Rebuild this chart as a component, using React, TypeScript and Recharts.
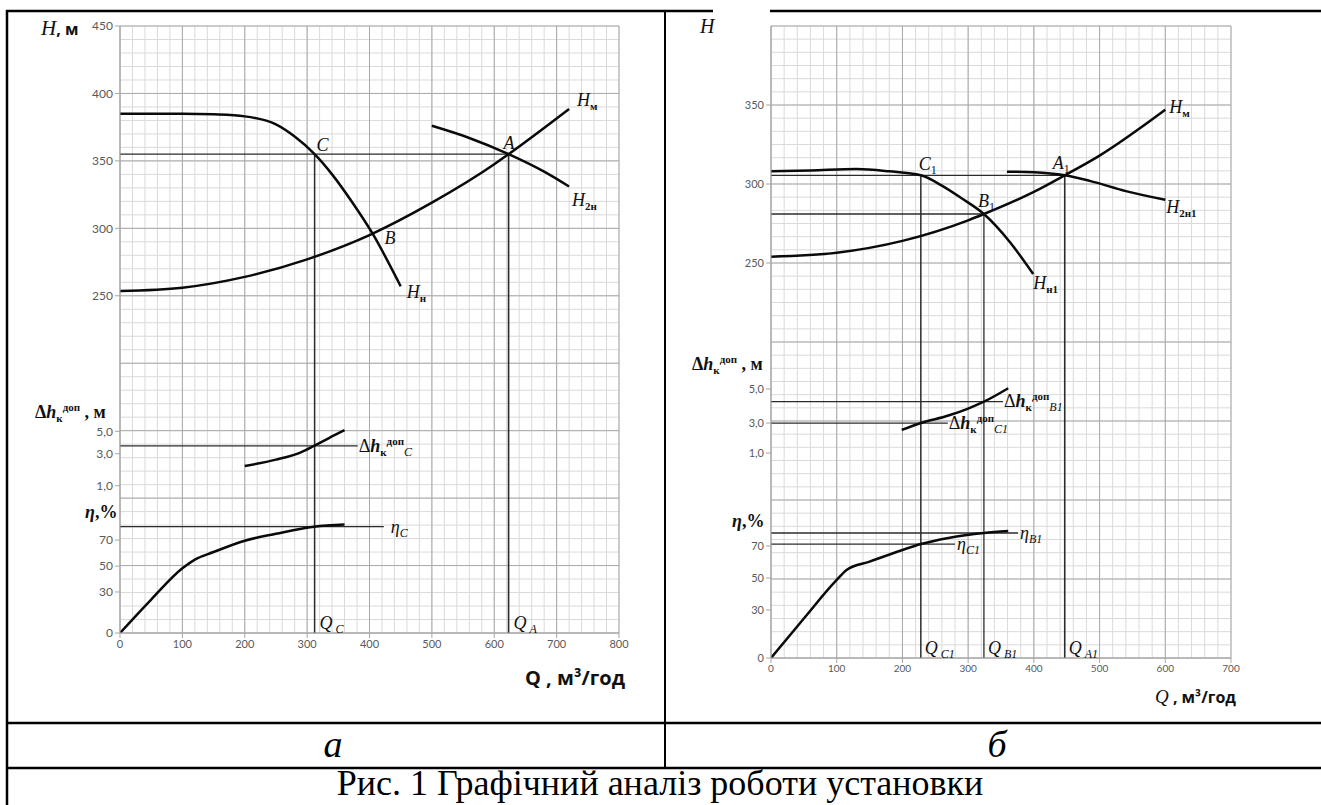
import React from "react";
import {
  LineChart,
  Line,
  XAxis,
  YAxis,
  CartesianGrid,
  ReferenceLine,
  ReferenceDot,
} from "recharts";

type Pt = [number, number];

// ---------- panel "а" (Q, м³/год  ->  H, м) ----------
const qTicksA = [0, 100, 200, 300, 400, 500, 600, 700, 800];
const headTicksA = [250, 300, 350, 400, 450];
const pumpHeadA: Pt[] = [[0, 385], [100, 385], [150, 384.5], [200, 383], [250, 377], [280, 368], [312, 355], [340, 340], [372, 319.5], [405, 296], [450, 257]];
const systemHeadA: Pt[] = [[0, 253.5], [100, 256], [200, 264], [300, 277], [400, 295], [500, 319], [600, 347.5], [623, 355], [720, 388.5]];
const twoPumpHeadA: Pt[] = [[500, 376], [560, 367], [623, 355], [680, 342], [720, 331]];
const npshA: Pt[] = [[200, 2.23], [250, 2.63], [290, 3.13], [311, 3.7], [335, 4.4], [360, 5.1]];
const effA: Pt[] = [[0, 0], [50, 24.5], [100, 48.3], [120, 55], [150, 60.8], [200, 69.5], [250, 74.8], [311, 80.3], [360, 82]];
const pointA: Pt = [623, 355];
const pointB: Pt = [405, 296];
const pointC: Pt = [312, 355];
const npshAtC = 3.7;
const effAtC = 80.3;

// ---------- panel "б" ----------
const qTicksB = [0, 100, 200, 300, 400, 500, 600, 700];
const headTicksB = [250, 300, 350];
const pumpHeadB: Pt[] = [[0, 308], [60, 308.5], [130, 309.5], [180, 308], [228, 305.5], [260, 299], [290, 291], [324, 281], [364, 263], [399, 243]];
const systemHeadB: Pt[] = [[0, 254], [100, 256.5], [200, 264], [300, 277], [324, 281], [400, 295], [447, 305.5], [500, 318], [600, 347]];
const twoPumpHeadB: Pt[] = [[359, 307.8], [400, 307.4], [447, 305.5], [485, 302], [540, 295.5], [600, 290]];
const npshB: Pt[] = [[199, 2.54], [228, 3.0], [270, 3.44], [300, 3.85], [324, 4.25], [361, 5.04]];
const effB: Pt[] = [[0, 0], [50, 24.7], [100, 48.8], [115, 55], [150, 60.2], [200, 67.5], [228, 71.2], [270, 75], [324, 78.1], [361, 79.3]];
const pointA1: Pt = [447, 305.5];
const pointB1: Pt = [324, 281];
const pointC1: Pt = [228, 305.5];
const npshAtB1 = 4.25;
const npshAtC1 = 3.0;
const effAtB1 = 78.1;
const effAtC1 = 71.2;

// secondary scales: Δh and η share the head grid; where their labels sit on it
const npshTicks = [1, 3, 5];
const npshTickLabels = ["1,0", "3,0", "5,0"];
const effTicks = [0, 30, 50, 70];
const npshScaleA: Pt[] = [[1, 109.2], [3, 132.9], [5, 149.5]];
const effScaleA: Pt[] = [[0, 0], [30, 30.4], [50, 49.6], [70, 68.9]];
const npshScaleB: Pt[] = [[1, 129.7], [3, 148.7], [5, 170.3]];
const effScaleB: Pt[] = [[0, 0], [30, 30.4], [50, 50.6], [70, 70.9]];

const SERIF = "'Liberation Serif', 'Times New Roman', serif";
const SANS = "'Open Sans', 'Liberation Sans', sans-serif";
const TICK = "Lato, 'Open Sans', sans-serif";

function piecewise(scale: Pt[], v: number) {
  let i = 0;
  while (i < scale.length - 2 && v > scale[i + 1][0]) i++;
  const [v0, y0] = scale[i];
  const [v1, y1] = scale[i + 1];
  return y0 + ((v - v0) * (y1 - y0)) / (v1 - v0);
}

function range(from: number, to: number, step: number) {
  const out: number[] = [];
  for (let v = from; v <= to + 1e-6; v += step) out.push(+v.toFixed(4));
  return out;
}

const toXY = (pts: Pt[], f: (v: number) => number = (v) => v) =>
  pts.map(([x, y]) => ({ x, y: f(y) }));

// label pieces
const sub = (s: string, size = 11, italic = false, bold = true) => (
  <tspan fontSize={size} dy={4} fontStyle={italic ? "italic" : "normal"} fontWeight={bold ? "bold" : "normal"}>
    {s}
  </tspan>
);
const headTag = (s: string) => (
  <>
    <tspan fontStyle="italic">H</tspan>
    {sub(s)}
  </>
);
const pointTag = (letter: string, idx?: string) => (
  <>
    <tspan fontStyle="italic">{letter}</tspan>
    {idx ? sub(idx, 12, false, false) : null}
  </>
);
const qTag = (s: string) => (
  <>
    <tspan fontStyle="italic">Q</tspan>
    <tspan fontSize={12} dy={4} dx={3} fontStyle="italic">{s}</tspan>
  </>
);
const etaTag = (s: string) => (
  <>
    <tspan fontStyle="italic">η</tspan>
    <tspan fontSize={12} dy={4} fontStyle="italic">{s}</tspan>
  </>
);
const npshTag = (s: string) => (
  <>
    <tspan>Δ</tspan>
    <tspan fontStyle="italic" fontWeight="bold">h</tspan>
    <tspan fontSize={11} fontWeight="bold" dy={4}>к</tspan>
    <tspan fontSize={11} fontWeight="bold" dy={-11}>доп</tspan>
    <tspan fontSize={12} fontStyle="italic" dy={11}>{s}</tspan>
  </>
);

interface Seg { from: Pt; to: Pt; w?: number }
interface Tag { at: Pt; dx: number; dy: number; node: React.ReactNode }

interface PanelProps {
  left: number;
  top: number;
  width: number;
  height: number;
  qMax: number;
  hMax: number;
  qMinor: number;
  hMinor: number;
  qTicks: number[];
  yTicks: { pos: number; label: string }[];
  curves: { x: number; y: number }[][];
  segs: Seg[];
  tags: Tag[];
  xFont: number;
  yFont: number;
}

function Panel(p: PanelProps) {
  const yPos = p.yTicks.map((t) => t.pos);
  const fmt = (v: number) => p.yTicks.find((t) => Math.abs(t.pos - v) < 1e-6)?.label ?? "";
  return (
    <div style={{ position: "absolute", left: p.left, top: p.top }}>
      <LineChart width={p.width} height={p.height} margin={{ top: 10, right: 30, bottom: 0, left: 0 }}>
        <CartesianGrid
          stroke="#dadada"
          strokeWidth={1}
          horizontalValues={range(0, p.hMax, p.hMinor)}
          verticalValues={range(0, p.qMax, p.qMinor)}
        />
        <CartesianGrid
          stroke="#a9a9a9"
          strokeWidth={1}
          horizontalValues={range(0, p.hMax, 50)}
          verticalValues={range(0, p.qMax, 100)}
        />
        <XAxis
          dataKey="x"
          type="number"
          domain={[0, p.qMax]}
          ticks={p.qTicks}
          interval={0}
          allowDataOverflow
          height={30}
          tickSize={5}
          stroke="#a6a6a6"
          tick={{ fontSize: p.xFont, fill: "#595959", fontFamily: TICK }}
        />
        <YAxis
          type="number"
          domain={[0, p.hMax]}
          ticks={yPos}
          interval={0}
          allowDataOverflow
          width={60}
          tickSize={5}
          stroke="#a6a6a6"
          tickFormatter={fmt}
          tick={{ fontSize: p.yFont, fill: "#595959", fontFamily: TICK }}
        />
        {p.segs.map((s, i) => (
          <ReferenceLine
            key={`seg-${i}`}
            segment={[{ x: s.from[0], y: s.from[1] }, { x: s.to[0], y: s.to[1] }]}
            stroke="#2b2b2b"
            strokeWidth={s.w ?? 1.3}
            ifOverflow="visible"
          />
        ))}
        {p.curves.map((c, i) => (
          <Line
            key={`curve-${i}`}
            data={c}
            dataKey="y"
            type="monotone"
            stroke="#0a0a0a"
            strokeWidth={2.5}
            dot={false}
            activeDot={false}
            legendType="none"
            isAnimationActive={false}
          />
        ))}
        {p.tags.map((t, i) => (
          <ReferenceDot
            key={`tag-${i}`}
            x={t.at[0]}
            y={t.at[1]}
            r={0}
            fill="none"
            stroke="none"
            ifOverflow="visible"
            label={(lp: any) => (
              <text
                x={lp.viewBox.x + t.dx}
                y={lp.viewBox.y + t.dy}
                fontFamily={SERIF}
                fontSize={18}
                fill="#111"
              >
                {t.node}
              </text>
            )}
          />
        ))}
      </LineChart>
    </div>
  );
}

export default function App() {
  const dA = (v: number) => piecewise(npshScaleA, v);
  const eA = (v: number) => piecewise(effScaleA, v);
  const dB = (v: number) => piecewise(npshScaleB, v);
  const eB = (v: number) => piecewise(effScaleB, v);

  const yTicksA = [
    ...effTicks.map((v) => ({ pos: eA(v), label: String(v) })),
    ...npshTicks.map((v, i) => ({ pos: dA(v), label: npshTickLabels[i] })),
    ...headTicksA.map((v) => ({ pos: v, label: String(v) })),
  ];
  const yTicksB = [
    ...effTicks.map((v) => ({ pos: eB(v), label: String(v) })),
    ...npshTicks.map((v, i) => ({ pos: dB(v), label: npshTickLabels[i] })),
    ...headTicksB.map((v) => ({ pos: v, label: String(v) })),
  ];

  const segsA: Seg[] = [
    { from: [0, pointC[1]], to: pointA },
    { from: pointC, to: [pointC[0], 0], w: 1.5 },
    { from: pointA, to: [pointA[0], 0], w: 1.6 },
    { from: [0, dA(npshAtC)], to: [381, dA(npshAtC)] },
    { from: [0, eA(effAtC)], to: [423, eA(effAtC)] },
  ];
  const segsB: Seg[] = [
    { from: [0, pointC1[1]], to: pointA1 },
    { from: [0, pointB1[1]], to: pointB1 },
    { from: pointC1, to: [pointC1[0], 0], w: 1.5 },
    { from: pointB1, to: [pointB1[0], 0], w: 1.3 },
    { from: pointA1, to: [pointA1[0], 0], w: 1.6 },
    { from: [0, dB(npshAtB1)], to: [353, dB(npshAtB1)] },
    { from: [0, dB(npshAtC1)], to: [269, dB(npshAtC1)] },
    { from: [0, eB(effAtB1)], to: [376, eB(effAtB1)] },
    { from: [0, eB(effAtC1)], to: [280, eB(effAtC1)] },
  ];

  const lastOf = (pts: Pt[]) => pts[pts.length - 1];

  const tagsA: Tag[] = [
    { at: lastOf(systemHeadA), dx: 8, dy: -3, node: headTag("м") },
    { at: lastOf(twoPumpHeadA), dx: 3, dy: 19, node: headTag("2н") },
    { at: lastOf(pumpHeadA), dx: 6, dy: 12, node: headTag("н") },
    { at: pointA, dx: -5, dy: -5, node: pointTag("A") },
    { at: pointB, dx: 12, dy: 10, node: pointTag("B") },
    { at: pointC, dx: 2, dy: -3, node: pointTag("C") },
    { at: [381, dA(npshAtC)], dx: 1, dy: 6, node: npshTag("C") },
    { at: [423, eA(effAtC)], dx: 7, dy: 6, node: etaTag("C") },
    { at: [pointC[0], 0], dx: 5, dy: -4, node: qTag("C") },
    { at: [pointA[0], 0], dx: 5, dy: -4, node: qTag("A") },
  ];
  const tagsB: Tag[] = [
    { at: lastOf(systemHeadB), dx: 4, dy: 3, node: headTag("м") },
    { at: lastOf(twoPumpHeadB), dx: 1, dy: 13, node: headTag("2н1") },
    { at: lastOf(pumpHeadB), dx: 0, dy: 15, node: headTag("н1") },
    { at: pointA1, dx: -12, dy: -6, node: pointTag("A", "1") },
    { at: pointB1, dx: -6, dy: -7, node: pointTag("B", "1") },
    { at: pointC1, dx: -2, dy: -5, node: pointTag("C", "1") },
    { at: [353, dB(npshAtB1)], dx: 1, dy: 5, node: npshTag("B1") },
    { at: [269, dB(npshAtC1)], dx: 1, dy: 6, node: npshTag("C1") },
    { at: [376, eB(effAtB1)], dx: 2, dy: 6, node: etaTag("B1") },
    { at: [280, eB(effAtC1)], dx: 2, dy: 6, node: etaTag("C1") },
    { at: [pointC1[0], 0], dx: 4, dy: -4, node: qTag("C1") },
    { at: [pointB1[0], 0], dx: 4, dy: -4, node: qTag("B1") },
    { at: [pointA1[0], 0], dx: 4, dy: -4, node: qTag("A1") },
  ];

  return (
    <div
      style={{
        position: "absolute",
        left: 0,
        top: 0,
        width: 1321,
        height: 805,
        background: "#fff",
        overflow: "hidden",
      }}
    >
      <Panel
        left={60}
        top={16}
        width={589}
        height={647}
        qMax={800}
        hMax={450}
        qMinor={20}
        hMinor={10}
        qTicks={qTicksA}
        yTicks={yTicksA}
        curves={[pumpHeadA, systemHeadA, twoPumpHeadA].map((c) => toXY(c)).concat([toXY(npshA, dA), toXY(effA, eA)])}
        segs={segsA}
        tags={tagsA}
        xFont={11}
        yFont={12}
      />
      <Panel
        left={711}
        top={16}
        width={550}
        height={672}
        qMax={700}
        hMax={400}
        qMinor={20}
        hMinor={50 / 6}
        qTicks={qTicksB}
        yTicks={yTicksB}
        curves={[pumpHeadB, systemHeadB, twoPumpHeadB].map((c) => toXY(c)).concat([toXY(npshB, dB), toXY(effB, eB)])}
        segs={segsB}
        tags={tagsB}
        xFont={10}
        yFont={11}
      />

      <svg
        width={1321}
        height={805}
        style={{ position: "absolute", left: 0, top: 0, pointerEvents: "none" }}
      >
        <g stroke="#000" strokeWidth={2.5}>
          <line x1={7} y1={10} x2={7} y2={805} />
          <line x1={6} y1={11} x2={713} y2={11} />
          <line x1={770} y1={11} x2={1321} y2={11} />
          <line x1={665} y1={11} x2={665} y2={768} strokeWidth={2} />
          <line x1={6} y1={723} x2={1321} y2={723} />
          <line x1={6} y1={768} x2={1321} y2={768} />
        </g>

        {/* axis titles, panel а */}
        <text x={41} y={35} fill="#111">
          <tspan fontFamily={SERIF} fontStyle="italic" fontSize={21}>H</tspan>
          <tspan fontFamily={SANS} fontWeight="bold" fontSize={16}>, м</tspan>
        </text>
        <text x={35} y={418} fontFamily={SERIF} fontWeight="bold" fontSize={18} fill="#111">
          <tspan>Δ</tspan>
          <tspan fontStyle="italic">h</tspan>
          <tspan fontSize={11} dy={4}>к</tspan>
          <tspan fontSize={11} dy={-11}>доп</tspan>
          <tspan dy={7}> , м</tspan>
        </text>
        <text x={85} y={518} fontFamily={SERIF} fontWeight="bold" fontSize={18} fill="#111">
          <tspan fontStyle="italic">η</tspan>,%
        </text>
        <text x={525} y={685} fontFamily={SANS} fontWeight="bold" fontSize={20} fill="#111">
          {"Q  , м³/год"}
        </text>

        {/* axis titles, panel б */}
        <text x={700} y={33} fontFamily={SERIF} fontStyle="italic" fontSize={20} fill="#111">
          H
        </text>
        <text x={692} y={370} fontFamily={SERIF} fontWeight="bold" fontSize={18} fill="#111">
          <tspan>Δ</tspan>
          <tspan fontStyle="italic">h</tspan>
          <tspan fontSize={11} dy={4}>к</tspan>
          <tspan fontSize={11} dy={-11}>доп</tspan>
          <tspan dy={7}> , м</tspan>
        </text>
        <text x={732} y={527} fontFamily={SERIF} fontWeight="bold" fontSize={18} fill="#111">
          <tspan fontStyle="italic">η</tspan>,%
        </text>
        <text x={1155} y={703} fill="#111">
          <tspan fontFamily={SERIF} fontStyle="italic" fontSize={19}>Q</tspan>
          <tspan fontFamily={SANS} fontWeight="bold" fontSize={16}> , м³/год</tspan>
        </text>

        {/* table texts */}
        <text x={333} y={757} textAnchor="middle" fontFamily={SERIF} fontStyle="italic" fontSize={38} fill="#000">
          а
        </text>
        <text x={997} y={757} textAnchor="middle" fontFamily={SERIF} fontStyle="italic" fontSize={38} fill="#000">
          б
        </text>
        <text x={660} y={795} textAnchor="middle" fontFamily={SERIF} fontSize={36} fill="#000">
          Рис. 1 Графічний аналіз роботи установки
        </text>
      </svg>
    </div>
  );
}
